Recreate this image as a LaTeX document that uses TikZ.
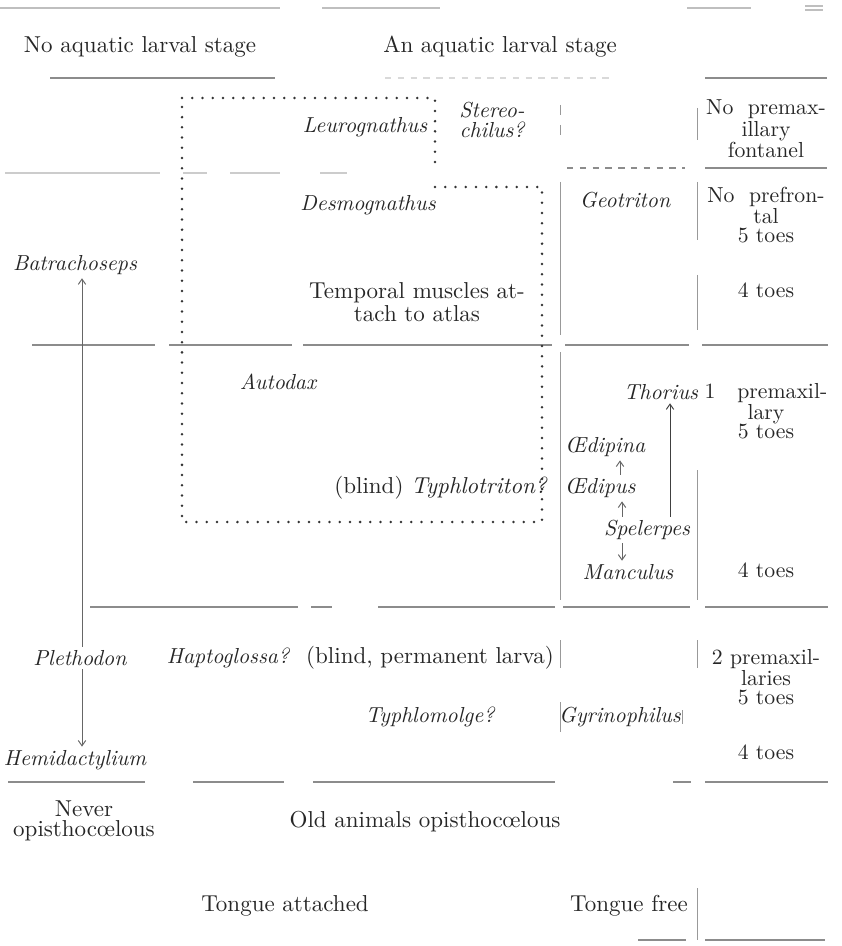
\documentclass[tikz,border=0pt]{standalone}
\usetikzlibrary{arrows.meta,calc}
\begin{document}
\begin{tikzpicture}[x=0.0165cm,y=-0.0165cm,
  lab/.style={font=\fontsize{10.8}{9.5}\selectfont,inner sep=1.5pt,text=black!85},
  sp/.style={lab,font=\fontsize{10.2}{9}\selectfont\itshape,align=center},
  feat/.style={lab,font=\fontsize{10.2}{9}\selectfont,align=center},
  rule/.style={black!45,line width=0.5pt},
  vrule/.style={black!40,line width=0.4pt},
  dots/.style={black!80,line width=1.3pt,line cap=round,dash pattern=on 0pt off 4.8pt},
  arr/.style={black!60,line width=0.45pt,-{Straight Barb[length=2.5pt,width=3.5pt]}}]
  \useasboundingbox (0,0) rectangle (841,946);

  % page and column rules
  \draw[rule,black!25] (0,8) -- (280,8) (322,8) -- (440,8) (687,8) -- (751,8)
    (805,6) -- (823,6) (805,10) -- (823,10);
  \draw[rule] (50,78) -- (275,78) (705,78) -- (827,78);
  \draw[rule,black!15,dashed] (385,78) -- (615,78);
  \draw[rule,black!20] (5,173) -- (160,173) (183,173) -- (207,173) (230,173) -- (280,173) (320,173) -- (347,173);
  \draw[rule,dashed] (567,168) -- (685,168);
  \draw[rule] (705,168) -- (827,168);
  \draw[rule] (32,345) -- (155,345) (169,345) -- (292,345) (303,345) -- (552,345)
    (565,345) -- (689,345) (702,345) -- (828,345);
  \draw[rule] (90,607) -- (298,607) (311,607) -- (332,607) (378,607) -- (555,607)
    (563,607) -- (690,607) (705,607) -- (828,607);
  \draw[rule] (8,782) -- (145,782) (193,782) -- (284,782) (313,782) -- (555,782)
    (673,782) -- (691,782) (705,782) -- (828,782);
  \draw[rule] (638,940) -- (686,940) (705,940) -- (825,940);
  \draw[vrule] (560,105) -- (560,115) (560,125) -- (560,135) (560,182) -- (560,335)
    (560,352) -- (560,600) (560,640) -- (560,668) (560,702) -- (560,732);
  \draw[vrule] (697,108) -- (697,140) (697,182) -- (697,240) (697,275) -- (697,330)
    (697,470) -- (697,600) (697,640) -- (697,668) (697,888) -- (697,940);
  \draw[vrule] (682,710) -- (682,724);

  % dotted group
  \draw[dots] (182,98) -- (435,98) -- (435,165);
  \draw[dots] (435,187) -- (542,187) -- (542,522) -- (182,522) -- (182,98);

  \node (hnolarva) at (140,47) [lab] {No aquatic larval stage};
  \node (hlarva) at (500,47) [lab] {An aquatic larval stage};

  \node (stereo) at (492,120) [sp] {Stereo-\\chilus?};
  \node (leuro) at (365,127) [sp] {Leurognathus};
  \node (nofont) at (766,129) [feat] {No\ \ premax-\\illary\\fontanel};
  \node (desmo) at (368,205) [sp] {Desmognathus};
  \node (geo) at (625,200) [sp] {Geotriton};
  \node (nopref) at (766,215) [feat] {No\ \ prefron-\\tal\\5 toes};
  \node (batra) at (75,265) [sp] {Batrachoseps};
  \node (temporal) at (417,302) [lab,align=center] {Temporal muscles at-\\tach to atlas};
  \node (toesa) at (766,290) [feat] {4 toes};

  \node (autodax) at (278,382) [sp] {Autodax};
  \node (thorius) at (661,392) [sp] {Thorius};
  \node (onepmx) at (766,411) [feat] {1\ \ \ premaxil-\\lary\\5 toes};
  \node (oedipina) at (605,447) [sp] {\OE dipina};
  \node (typhlo) at (441,488) [lab] {(blind) \textit{Typhlotriton?}};
  \node (oedipus) at (600,488) [sp] {\OE dipus};
  \node (spel) at (647,530) [sp] {Spelerpes};
  \node (manc) at (628,572) [sp] {Manculus};
  \node (toesb) at (766,570) [feat] {4 toes};

  \node (pleth) at (80,658) [sp] {Plethodon};
  \node (hapto) at (228,658) [sp] {Haptoglossa?};
  \node (larva) at (430,658) [lab] {(blind, permanent larva)};
  \node (twopmx) at (766,677) [feat] {2 premaxil-\\laries\\5 toes};
  \node (typhlom) at (430,717) [sp] {Typhlomolge?};
  \node (gyrino) at (620,717) [sp] {Gyrinophilus};
  \node (toesc) at (766,752) [feat] {4 toes};
  \node (hemi) at (75,760) [sp] {Hemidactylium};

  \node (never) at (84,821) [lab,align=center] {Never\\opisthoc\oe lous};
  \node (old) at (425,822) [lab] {Old animals opisthoc\oe lous};
  \node (tatt) at (285,906) [lab] {Tongue attached};
  \node (tfree) at (629,906) [lab] {Tongue free};

  % lines of descent
  \draw[arr] ($(pleth.north)+(2,0)$) -- ($(batra.south)+(7,0)$);
  \draw[arr] ($(pleth.south)+(2,0)$) -- ($(hemi.north)+(7,0)$);
  \draw[arr] ($(oedipus.north)+(20,0)$) -- ($(oedipina.south)+(15,0)$);
  \draw[arr] ($(spel.north)+(-25,0)$) -- ($(oedipus.south)+(22,0)$);
  \draw[arr] ($(spel.south)+(-25,0)$) -- ($(manc.north)+(-6,0)$);
  \draw[arr,black!75] ($(spel.north)+(23,0)$) -- ($(thorius.south)+(9,0)$);
\end{tikzpicture}
\end{document}
